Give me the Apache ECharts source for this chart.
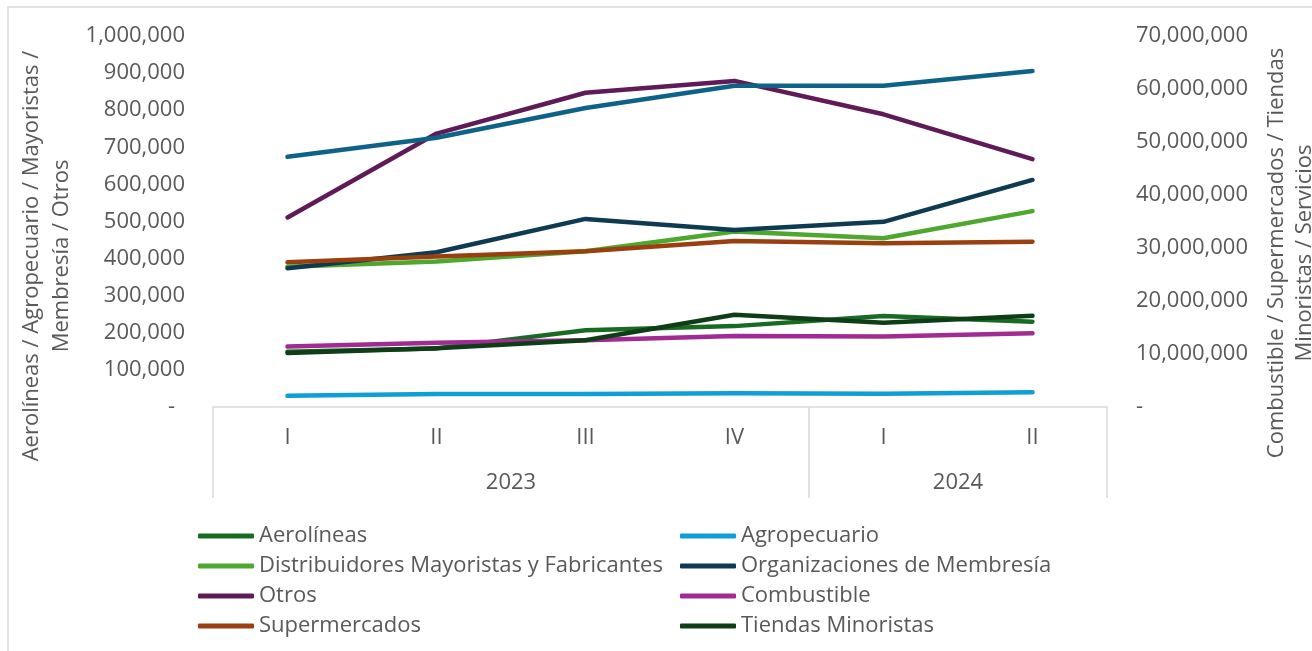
<!DOCTYPE html>
<html>
<head>
<meta charset="utf-8">
<script src="https://cdn.jsdelivr.net/npm/echarts@6/dist/echarts.min.js"></script>
<style>
html,body{margin:0;padding:0;background:#fff;}
#chart{width:1312px;height:651px;}
</style>
</head>
<body>
<div id="chart"></div>
<script>
// ---- data ----
const quarters = ['I', 'II', 'III', 'IV', 'I', 'II'];
const years = ['2023', '2024'];
const yearSpans = [4, 2];

const leftTicks = [0, 1000000, 100000];      // min, max, interval
const rightTicks = [0, 70000000, 10000000];  // min, max, interval

const aerolineas      = [149000, 158000, 207000, 218000, 245000, 230000];
const agropecuario    = [30000, 35000, 35000, 37000, 36000, 40000];
const distribuidores  = [378000, 392000, 420000, 473000, 455000, 528000];
const organizaciones  = [374000, 417000, 507000, 477000, 499000, 612000];
const otros           = [511000, 737000, 847000, 879000, 789000, 668000];
const combustible     = [11400000, 12100000, 12600000, 13400000, 13300000, 13900000];
const supermercados   = [27300000, 28400000, 29400000, 31300000, 30900000, 31200000];
const tiendas         = [10200000, 11100000, 12600000, 17400000, 15900000, 17200000];
const servicios       = [47200000, 50800000, 56400000, 60600000, 60600000, 63400000];

const leftTitle = ['Aerolíneas / Agropecuario / Mayoristas /', 'Membresía / Otros'];
const rightTitle = ['Combustible / Supermercados / Tiendas', 'Minoristas / Servicios'];

// ---- build ----
const FONT = 'Open Sans';
const FS = 22;
const GRAY = '#595959';
const LINEC = '#d9d9d9';

const seriesDefs = [
  {name: 'Aerolíneas', data: aerolineas, color: '#196B24', y: 0},
  {name: 'Agropecuario', data: agropecuario, color: '#0F9ED5', y: 0},
  {name: 'Distribuidores Mayoristas y Fabricantes', data: distribuidores, color: '#4EA72E', y: 0},
  {name: 'Organizaciones de Membresía', data: organizaciones, color: '#0E3A52', y: 0},
  {name: 'Otros', data: otros, color: '#5F1A57', y: 0},
  {name: 'Combustible', data: combustible, color: '#A02B93', y: 1},
  {name: 'Supermercados', data: supermercados, color: '#9A3F10', y: 1},
  {name: 'Tiendas Minoristas', data: tiendas, color: '#0F3D17', y: 1},
  {name: 'Servicios', data: servicios, color: '#0F6287', y: 1}
];

// year group boundaries and centres (in category units)
const bounds = [0];
const centers = [];
yearSpans.forEach(s => { const a = bounds[bounds.length - 1]; centers.push(a + s / 2); bounds.push(a + s); });

const fmt = v => v === 0 ? '-' : v.toLocaleString('en-US');

const chart = echarts.init(document.getElementById('chart'), null, {renderer: 'canvas'});
const legendBase = {
  orient: 'vertical', icon: 'roundRect', itemWidth: 56, itemHeight: 5, itemGap: 6,
  textStyle: {fontFamily: FONT, fontSize: FS, color: GRAY, lineHeight: 24}
};
chart.setOption({
  animation: false,
  backgroundColor: '#fff',
  textStyle: {fontFamily: FONT},
  grid: {left: 213, right: 205, top: 36, bottom: 244, containLabel: false},
  xAxis: [
    {
      type: 'category', data: quarters, position: 'bottom', boundaryGap: true,
      axisLine: {show: true, lineStyle: {color: LINEC, width: 1.5}},
      axisTick: {show: false},
      axisLabel: {margin: 18, fontFamily: FONT, fontSize: FS, color: GRAY, lineHeight: 26},
      splitLine: {show: false}
    },
    {
      type: 'value', min: 0, max: quarters.length, position: 'bottom', offset: 0,
      axisLine: {show: false},
      axisTick: {show: true, customValues: bounds, length: 91, inside: false, lineStyle: {color: LINEC, width: 1.5}},
      axisLabel: {
        customValues: centers, margin: 63, fontFamily: FONT, fontSize: FS, color: GRAY, lineHeight: 26,
        formatter: v => { const i = centers.indexOf(v); return i >= 0 ? years[i] : ''; }
      },
      splitLine: {show: false}
    }
  ],
  yAxis: [
    {
      type: 'value', position: 'left', min: leftTicks[0], max: leftTicks[1], interval: leftTicks[2],
      axisLine: {show: false}, axisTick: {show: false}, splitLine: {show: false},
      axisLabel: {
        margin: 28, fontFamily: FONT, fontSize: FS, color: GRAY,
        formatter: v => v === 0 ? '{d|-}' : fmt(v),
        rich: {d: {fontFamily: FONT, fontSize: FS, color: GRAY, padding: [0, 10, 0, 0]}}
      }
    },
    {
      type: 'value', position: 'right', min: rightTicks[0], max: rightTicks[1], interval: rightTicks[2],
      axisLine: {show: false}, axisTick: {show: false}, splitLine: {show: false},
      axisLabel: {margin: 29, fontFamily: FONT, fontSize: FS, color: GRAY, formatter: fmt}
    }
  ],
  legend: [
    Object.assign({}, legendBase, {left: 193, top: 519,
      data: ['Aerolíneas', 'Distribuidores Mayoristas y Fabricantes', 'Otros', 'Supermercados']}),
    Object.assign({}, legendBase, {left: 675, top: 519,
      data: ['Agropecuario', 'Organizaciones de Membresía', 'Combustible', 'Tiendas Minoristas']})
  ],
  series: seriesDefs.map(d => ({
    name: d.name, type: 'line', data: d.data, xAxisIndex: 0, yAxisIndex: d.y,
    symbol: 'none', showSymbol: false, color: d.color,
    itemStyle: {color: d.color},
    lineStyle: {color: d.color, width: 4.5, cap: 'round', join: 'round'},
    emphasis: {disabled: true}
  })),
  graphic: [
    {type: 'rect', shape: {x: 8, y: 7, width: 1400, height: 800}, style: {fill: 'none', stroke: LINEC, lineWidth: 1.5}, silent: true},
    {type: 'text', x: 47, y: 256, rotation: Math.PI / 2,
      style: {text: leftTitle.join('\n'), align: 'center', verticalAlign: 'middle', fontFamily: FONT, fontSize: FS, lineHeight: 30, fill: GRAY}},
    {type: 'text', x: 1291, y: 253, rotation: Math.PI / 2,
      style: {text: rightTitle.join('\n'), align: 'center', verticalAlign: 'middle', fontFamily: FONT, fontSize: FS, lineHeight: 28, fill: GRAY}}
  ]
});
</script>
</body>
</html>
